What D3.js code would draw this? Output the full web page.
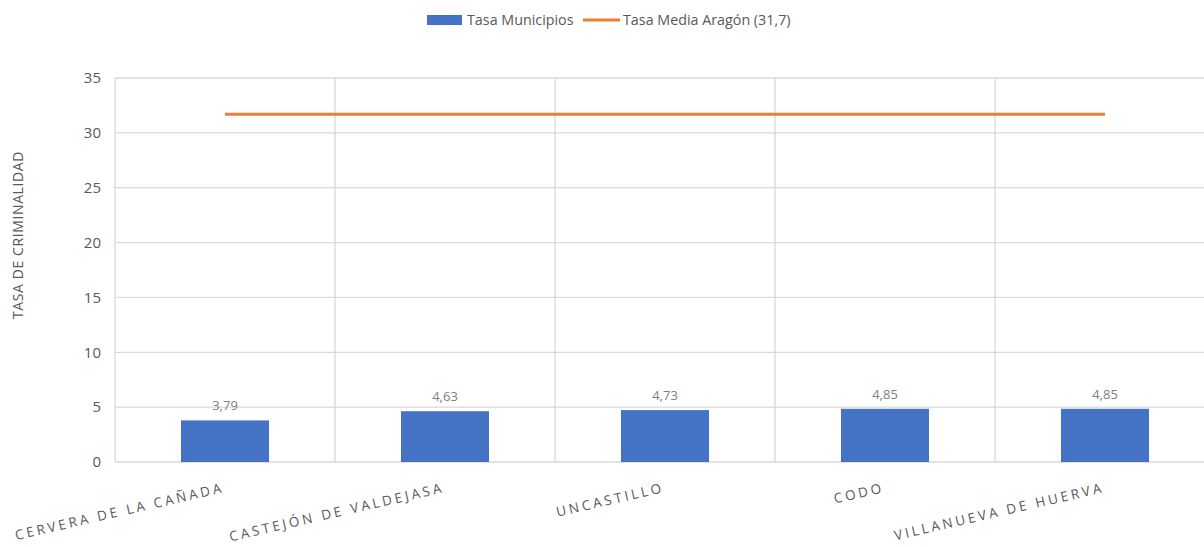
<!DOCTYPE html>
<html lang="es">
<head>
<meta charset="UTF-8" />
<title>Tasa de criminalidad</title>
<script src="https://d3js.org/d3.v7.min.js"></script>
<style>
  body { margin: 0; background: #fff; }
  svg { font-family: "Open Sans", "Noto Sans", sans-serif; }
  .grid line { stroke: #d9d9d9; stroke-width: 1.3px; }
  .tick-label { fill: #595959; font-size: 15px; }
  .cat-label { fill: #595959; font-size: 13.5px; letter-spacing: 3px; }
  .val-label { fill: #808080; font-size: 13px; }
  .legend text { fill: #595959; font-size: 14.3px; }
</style>
</head>
<body>
<svg width="1204" height="547"></svg>
<script>
const municipios = ['CERVERA DE LA CAÑADA', 'CASTEJÓN DE VALDEJASA', 'UNCASTILLO', 'CODO', 'VILLANUEVA DE HUERVA'];
const tasas = [3.79, 4.63, 4.73, 4.85, 4.85];
const tasaMedia = 31.7;
const yTicks = [0, 5, 10, 15, 20, 25, 30, 35];

const svg = d3.select('svg');
const plotLeft = 115, plotRight = 1215, plotTop = 78, plotBottom = 462;

const x = d3.scaleBand().domain(municipios).range([plotLeft, plotRight]).padding(0);
const y = d3.scaleLinear().domain([0, 35]).range([plotBottom, plotTop]);
const fmt = v => v.toFixed(2).replace('.', ',');

// gridlines
const grid = svg.append('g').attr('class', 'grid');
grid.selectAll('.h').data(yTicks).join('line')
    .attr('x1', plotLeft).attr('x2', plotRight)
    .attr('y1', d => y(d)).attr('y2', d => y(d));
grid.selectAll('.v').data(municipios).join('line')
    .attr('x1', d => x(d)).attr('x2', d => x(d))
    .attr('y1', plotTop).attr('y2', plotBottom);

// y tick labels
svg.append('g').selectAll('text').data(yTicks).join('text')
    .attr('class', 'tick-label')
    .attr('x', 101).attr('y', d => y(d)).attr('dy', '0.35em')
    .attr('text-anchor', 'end')
    .text(d => d);

// y title
svg.append('text')
    .attr('class', 'tick-label')
    .attr('transform', 'translate(23,235) rotate(-90)')
    .attr('text-anchor', 'middle')
    .style('font-size', '14px')
    .style('letter-spacing', '0.6px')
    .text('TASA DE CRIMINALIDAD');

// bars
const barW = x.bandwidth() * 0.4;
svg.append('g').selectAll('rect').data(municipios).join('rect')
    .attr('x', d => x(d) + (x.bandwidth() - barW) / 2)
    .attr('y', (d, i) => y(tasas[i]))
    .attr('width', barW)
    .attr('height', (d, i) => y(0) - y(tasas[i]))
    .attr('fill', '#4472c4');

// value labels
svg.append('g').selectAll('text').data(municipios).join('text')
    .attr('class', 'val-label')
    .attr('x', d => x(d) + x.bandwidth() / 2)
    .attr('y', (d, i) => y(tasas[i]) - 10)
    .attr('text-anchor', 'middle')
    .text((d, i) => fmt(tasas[i]));

// average line
const line = d3.line().x(d => x(d) + x.bandwidth() / 2).y(() => y(tasaMedia));
svg.append('path')
    .attr('d', line(municipios))
    .attr('fill', 'none')
    .attr('stroke', '#ed7d31')
    .attr('stroke-width', 3);

// category labels
svg.append('g').selectAll('text').data(municipios).join('text')
    .attr('class', 'cat-label')
    .attr('transform', d => `translate(${x(d) + x.bandwidth() / 2},${plotBottom + 30}) rotate(-13)`)
    .attr('text-anchor', 'end')
    .text(d => d);

// legend
const legend = svg.append('g').attr('class', 'legend');
legend.append('rect').attr('x', 427).attr('y', 15).attr('width', 35).attr('height', 10).attr('fill', '#4472c4');
legend.append('text').attr('x', 467).attr('y', 20).attr('dy', '0.35em').text('Tasa Municipios');
legend.append('line').attr('x1', 583).attr('x2', 620).attr('y1', 20).attr('y2', 20)
    .attr('stroke', '#ed7d31').attr('stroke-width', 3);
legend.append('text').attr('x', 623).attr('y', 20).attr('dy', '0.35em').text('Tasa Media Aragón (31,7)');
</script>
</body>
</html>
